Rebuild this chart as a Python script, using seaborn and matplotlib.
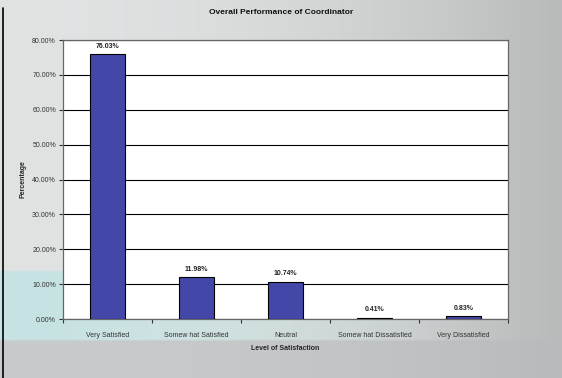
import matplotlib
matplotlib.use("Agg")
import matplotlib.pyplot as plt
import seaborn as sns
import numpy as np
import pandas as pd
from matplotlib.ticker import FuncFormatter, FixedLocator

categories = ["Very Satisfied", "Somew hat Satisfied", "Neutral", "Somew hat Dissatisfied", "Very Dissatisfied"]
values = [76.03, 11.98, 10.74, 0.41, 0.83]
labels = ["76.03%", "11.98%", "10.74%", "0.41%", "0.83%"]

sns.set_theme(style="white")
plt.rcParams['font.family'] = ['Liberation Sans', 'DejaVu Sans']

fig = plt.figure(figsize=(5.62, 3.78), dpi=100)

# background gradient
bg = fig.add_axes([0, 0, 1, 1], zorder=-10)
h, w = 120, 200
xx = np.linspace(0, 1, w)[None, :]
yy = np.linspace(0, 1, h)[:, None]
base = np.array([0.88, 0.89, 0.89])
img = np.ones((h, w, 3)) * base
img = img - 0.16 * (xx ** 2)[..., None]
teal = np.array([0.78, 0.89, 0.89])
mask = ((yy > 0.72) & (yy < 0.90)) * np.clip(1.1 - xx * 1.4, 0, 1)
img = img * (1 - mask[..., None]) + teal * mask[..., None]
bottom = (yy > 0.90).astype(float)
img = img * (1 - 0.6 * bottom[..., None]) + np.array([0.72, 0.73, 0.74]) * 0.6 * bottom[..., None]
bg.imshow(np.clip(img, 0, 1), aspect="auto", extent=[0, 1, 1, 0])
bg.set_xlim(0, 1); bg.set_ylim(1, 0)
bg.axis("off")
bg.plot([0.006, 0.006], [0.02, 1.0], color="black", lw=1.2)

ax = fig.add_axes([0.112, 0.156, 0.792, 0.738])
df = pd.DataFrame({"cat": categories, "val": values})
sns.barplot(data=df, x="cat", y="val", color="#4347A8", width=0.4,
            edgecolor="black", linewidth=0.8, saturation=1, ax=ax, zorder=3)
ax.set_facecolor("white")
ax.set_ylim(0, 80)
ax.set_xlim(-0.5, len(categories) - 0.5)
ax.set_yticks(np.arange(0, 81, 10))
ax.yaxis.set_major_formatter(FuncFormatter(lambda v, p: f"{v:.2f}%"))
ax.grid(axis="y", color="black", linewidth=0.8, zorder=0)
ax.set_axisbelow(True)
for s in ["top", "right", "left", "bottom"]:
    ax.spines[s].set_color("#666666")
    ax.spines[s].set_linewidth(0.9)
ax.tick_params(axis="both", labelsize=5, colors="#333333", length=3, direction="out")
ax.tick_params(axis="y", left=True, width=0.8, pad=2)
ax.tick_params(axis="x", bottom=False, pad=6)
ax.xaxis.set_minor_locator(FixedLocator(np.arange(-0.5, len(categories), 1.0)))
ax.tick_params(axis="x", which="minor", bottom=True, length=3, width=0.8, color="#333333")
for i, (v, lab) in enumerate(zip(values, labels)):
    ax.text(i, v + 1.2, lab, ha="center", va="bottom", fontsize=5, fontweight="bold", color="#222222")
ax.set_xlabel("Level of Satisfaction", fontsize=5, fontweight="bold", labelpad=5)
ax.set_ylabel("Percentage", fontsize=5, fontweight="bold", labelpad=4)
fig.text(0.5, 0.968, "Overall Performance of Coordinator", ha="center", va="center",
         fontsize=6, fontweight="bold", color="#111111")
fig.savefig("out.png", dpi=100)
